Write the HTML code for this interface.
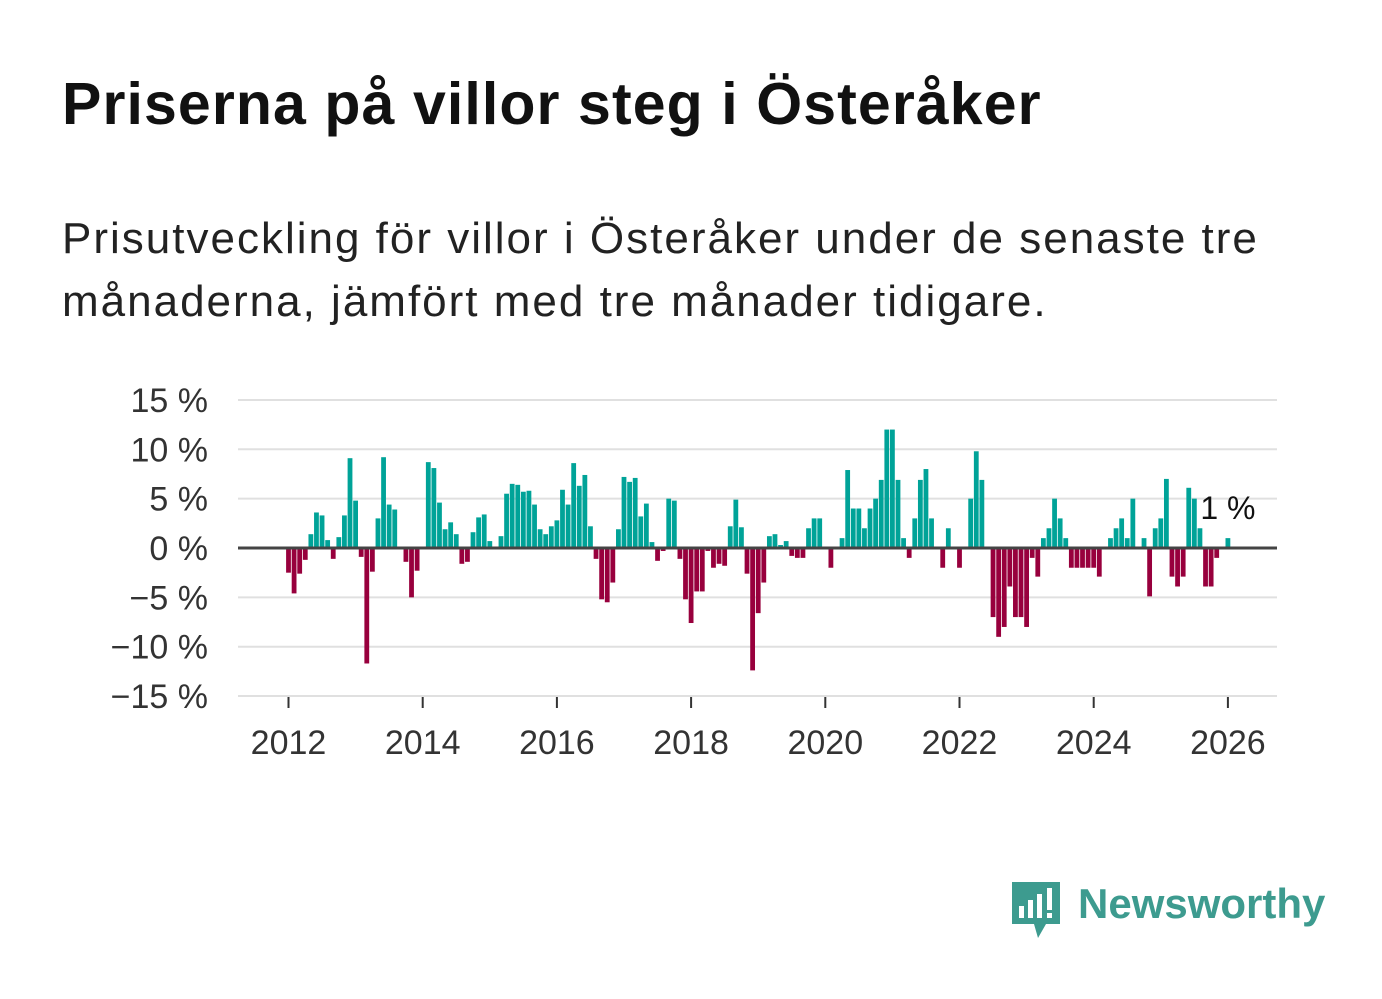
<!DOCTYPE html>
<html><head><meta charset="utf-8">
<style>
body{margin:0;background:#fff;width:1382px;height:999px;overflow:hidden;font-family:"Liberation Sans","DejaVu Sans",sans-serif;}
#title{position:absolute;left:62px;top:70px;font-size:59px;font-weight:bold;color:#111;margin:0;letter-spacing:1.1px;white-space:nowrap}
#sub{position:absolute;left:62px;top:207px;font-size:44px;color:#222;line-height:63px;margin:0;width:1320px;letter-spacing:2px;white-space:nowrap}
svg{position:absolute;left:0;top:0}
</style></head><body>
<h1 id="title">Priserna på villor steg i Österåker</h1>
<p id="sub">Prisutveckling för villor i Österåker under de senaste tre<br>månaderna, jämfört med tre månader tidigare.</p>
<svg id="chart" width="1382" height="999"></svg>
<script>
const startYear = 2012;
const values = [-2.5,-4.6,-2.6,-1.2,1.4,3.6,3.3,0.8,-1.1,1.1,3.3,9.1,4.8,-0.9,-11.7,-2.4,3.0,9.2,4.4,3.9,0,-1.4,-5.0,-2.3,0,8.7,8.1,4.6,1.9,2.6,1.4,-1.6,-1.4,1.6,3.1,3.4,0.7,0,1.2,5.5,6.5,6.4,5.7,5.8,4.4,1.9,1.4,2.2,2.8,5.9,4.4,8.6,6.3,7.4,2.2,-1.1,-5.2,-5.5,-3.5,1.9,7.2,6.7,7.1,3.2,4.5,0.6,-1.3,-0.3,5.0,4.8,-1.1,-5.2,-7.6,-4.4,-4.4,-0.3,-2.0,-1.6,-1.8,2.2,4.9,2.1,-2.6,-12.4,-6.6,-3.5,1.2,1.4,0.3,0.7,-0.8,-1.0,-1.0,2.0,3.0,3.0,0,-2.0,0,1.0,7.9,4.0,4.0,2.0,4.0,5.0,6.9,12.0,12.0,6.9,1.0,-1.0,3.0,6.9,8.0,3.0,0,-2.0,2.0,0,-2.0,0,5.0,9.8,6.9,0,-7.0,-9.0,-8.0,-3.9,-7.0,-7.0,-8.0,-1.0,-2.9,1.0,2.0,5.0,3.0,1.0,-2.0,-2.0,-2.0,-2.0,-2.0,-2.9,0,1.0,2.0,3.0,1.0,5.0,0,1.0,-4.9,2.0,3.0,7.0,-2.9,-3.9,-2.9,6.1,5.0,2.0,-3.9,-3.9,-1.0,0,1.0];
const yTicks = [15,10,5,0,-5,-10,-15];
const yTickLabels = ["15 %","10 %","5 %","0 %","−5 %","−10 %","−15 %"];
const xTicks = [2012,2014,2016,2018,2020,2022,2024,2026];
const lastLabel = "1 %";

const NS="http://www.w3.org/2000/svg";
const svg=document.getElementById('chart');
const y=v=>548-v*9.87;
const x=t=>288.5+(t-2012)*67.1;
function mk(tag,attrs){const e=document.createElementNS(NS,tag);for(const k in attrs)e.setAttribute(k,attrs[k]);svg.appendChild(e);return e;}
yTicks.forEach((t,i)=>{
  if(t!==0){const g=mk('line',{x1:238,x2:1277,y1:y(t),y2:y(t),stroke:'#e0e0e0','stroke-width':2});
  
  }
  const l=mk('text',{x:208,y:y(t)+12,'text-anchor':'end','font-size':34,fill:'#333'});
  l.textContent=yTickLabels[i];
  
  
});
xTicks.forEach(t=>{
  const tk=mk('line',{x1:x(t),x2:x(t),y1:697,y2:708,stroke:'#333','stroke-width':2});
  
  
  const l=mk('text',{x:x(t),y:754,'text-anchor':'middle','font-size':34,fill:'#333'});
  l.textContent=t;
  
  
});
values.forEach((v,i)=>{
  if(v===0)return;
  const cx=x(startYear+i/12);
  const r=mk('rect',{x:cx-2.4,width:4.8,y:Math.min(y(v),548),height:Math.abs(y(v)-548),fill:v>0?'#00a398':'#98003d'});
  
  
});
const z=mk('line',{x1:238,x2:1277,y1:548,y2:548,stroke:'#444','stroke-width':3});


const ll=mk('text',{x:x(startYear+(values.length-1)/12),y:519,'text-anchor':'middle','font-size':32,fill:'#111'});
ll.textContent=lastLabel;


</script>
<svg width="1382" height="999" style="pointer-events:none">
<path d="M1012 882h48v42h-14l-8 14-4-14h-22z" fill="#3d9b8f"/>
<rect x="1019" y="906" width="5" height="12" fill="#fff"/><rect x="1028" y="900" width="5" height="18" fill="#fff"/><rect x="1037" y="894" width="5" height="24" fill="#fff"/><rect x="1047" y="888" width="5" height="22" fill="#fff"/><rect x="1047" y="913" width="5" height="5" fill="#fff"/>
<text x="1078" y="918" font-size="42" font-weight="bold" fill="#3d9b8f" font-family="Liberation Sans, sans-serif">Newsworthy</text>
</svg>
</body></html>
